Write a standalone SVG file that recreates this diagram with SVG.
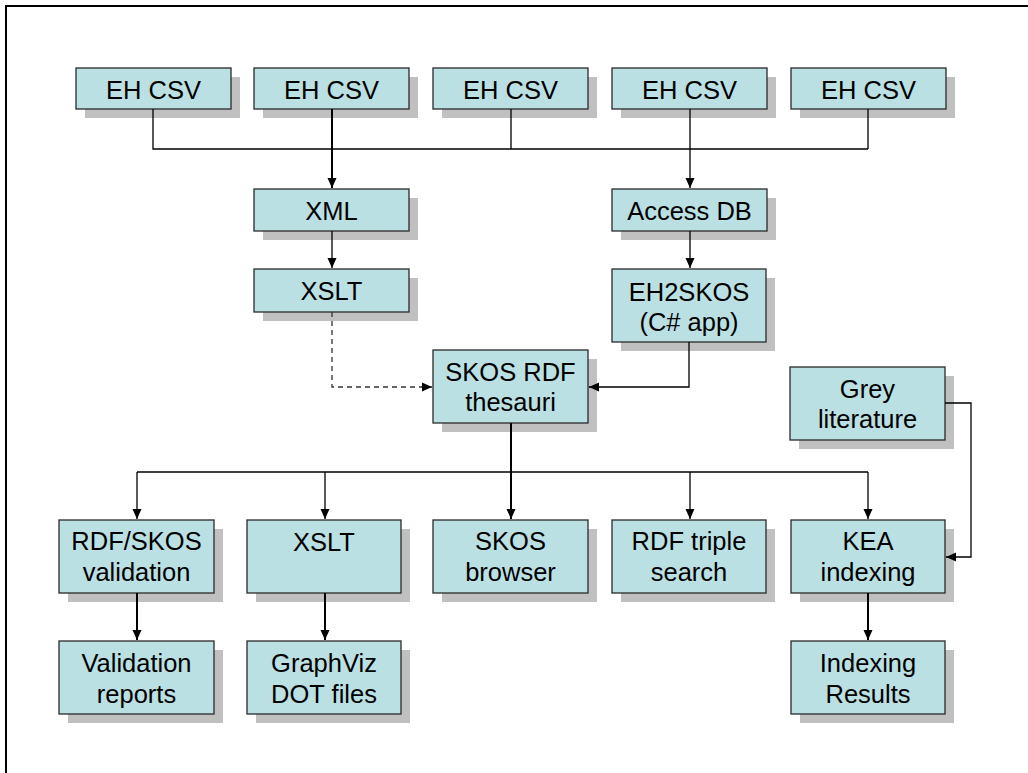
<svg xmlns="http://www.w3.org/2000/svg" width="1028" height="773" viewBox="0 0 1028 773">
<style>
.shadow{fill:#c0c0c0}
.box{fill:#bbe0e3;stroke:#2a2a2a;stroke-width:1.3}
.t{font-family:"Liberation Sans",Arial,sans-serif;font-size:25.5px;fill:#000;text-anchor:middle}
.c{fill:none;stroke:#000;stroke-width:1.3}
.th{stroke-width:2}
.d{stroke-dasharray:5,4;stroke:#333}
</style>
<defs>
<marker id="ah" markerUnits="userSpaceOnUse" markerWidth="9" markerHeight="10" refX="4.5" refY="10" orient="0" overflow="visible">
<path d="M0,0 L4.5,10 L9,0 z" fill="#000"/>
</marker>
<marker id="ahl" markerUnits="userSpaceOnUse" markerWidth="10" markerHeight="9" refX="0" refY="4.5" orient="0" overflow="visible">
<path d="M10,0 L0,4.5 L10,9 z" fill="#000"/>
</marker>
<marker id="ahr" markerUnits="userSpaceOnUse" markerWidth="10" markerHeight="9" refX="10" refY="4.5" orient="0" overflow="visible">
<path d="M0,0 L10,4.5 L0,9 z" fill="#000"/>
</marker>
</defs>
<rect x="6" y="6" width="1100" height="900" fill="#fff" stroke="#000" stroke-width="2"/>
<g id="csv1"><rect class="shadow" x="85" y="77" width="155" height="41"/><rect class="box" x="76" y="68" width="155" height="41"/><text class="t" x="153.5" y="99">EH CSV</text></g>
<g id="csv2"><rect class="shadow" x="263" y="77" width="155" height="41"/><rect class="box" x="254" y="68" width="155" height="41"/><text class="t" x="331.5" y="99">EH CSV</text></g>
<g id="csv3"><rect class="shadow" x="442" y="77" width="155" height="41"/><rect class="box" x="433" y="68" width="155" height="41"/><text class="t" x="510.5" y="99">EH CSV</text></g>
<g id="csv4"><rect class="shadow" x="621" y="77" width="155" height="41"/><rect class="box" x="612" y="68" width="155" height="41"/><text class="t" x="689.5" y="99">EH CSV</text></g>
<g id="csv5"><rect class="shadow" x="800" y="77" width="155" height="41"/><rect class="box" x="791" y="68" width="155" height="41"/><text class="t" x="868.5" y="99">EH CSV</text></g>
<g id="xml"><rect class="shadow" x="263" y="198" width="155" height="42"/><rect class="box" x="254" y="189" width="155" height="42"/><text class="t" x="331.5" y="220">XML</text></g>
<g id="accessdb"><rect class="shadow" x="621" y="198" width="155" height="42"/><rect class="box" x="612" y="189" width="155" height="42"/><text class="t" x="689.5" y="220">Access DB</text></g>
<g id="xslt1"><rect class="shadow" x="263" y="278" width="155" height="43"/><rect class="box" x="254" y="269" width="155" height="43"/><text class="t" x="331.5" y="300">XSLT</text></g>
<g id="eh2skos"><rect class="shadow" x="621" y="278" width="154" height="73"/><rect class="box" x="612" y="269" width="154" height="73"/><text class="t" x="689" y="301">EH2SKOS</text><text class="t" x="689" y="331">(C# app)</text></g>
<g id="skosrdf"><rect class="shadow" x="442" y="359" width="155" height="73"/><rect class="box" x="433" y="350" width="155" height="73"/><text class="t" x="510.5" y="381">SKOS RDF</text><text class="t" x="510.5" y="411">thesauri</text></g>
<g id="grey"><rect class="shadow" x="799" y="376" width="155" height="73"/><rect class="box" x="790" y="367" width="155" height="73"/><text class="t" x="867.5" y="398">Grey</text><text class="t" x="867.5" y="428">literature</text></g>
<g id="rdfskos"><rect class="shadow" x="68" y="529" width="155" height="73"/><rect class="box" x="59" y="520" width="155" height="73"/><text class="t" x="136.5" y="550">RDF/SKOS</text><text class="t" x="136.5" y="581">validation</text></g>
<g id="xslt2"><rect class="shadow" x="256" y="529" width="154" height="73"/><rect class="box" x="247" y="520" width="154" height="73"/><text class="t" x="324" y="551">XSLT</text></g>
<g id="skosbrowser"><rect class="shadow" x="442" y="529" width="155" height="73"/><rect class="box" x="433" y="520" width="155" height="73"/><text class="t" x="510.5" y="550">SKOS</text><text class="t" x="510.5" y="581">browser</text></g>
<g id="rdftriple"><rect class="shadow" x="621" y="529" width="154" height="73"/><rect class="box" x="612" y="520" width="154" height="73"/><text class="t" x="689" y="550">RDF triple</text><text class="t" x="689" y="581">search</text></g>
<g id="kea"><rect class="shadow" x="800" y="529" width="154" height="73"/><rect class="box" x="791" y="520" width="154" height="73"/><text class="t" x="868" y="550">KEA</text><text class="t" x="868" y="581">indexing</text></g>
<g id="valreports"><rect class="shadow" x="68" y="650" width="155" height="73"/><rect class="box" x="59" y="641" width="155" height="73"/><text class="t" x="136.5" y="672">Validation</text><text class="t" x="136.5" y="703">reports</text></g>
<g id="graphviz"><rect class="shadow" x="256" y="650" width="154" height="73"/><rect class="box" x="247" y="641" width="154" height="73"/><text class="t" x="324" y="672">GraphViz</text><text class="t" x="324" y="703">DOT files</text></g>
<g id="indexres"><rect class="shadow" x="800" y="650" width="154" height="73"/><rect class="box" x="791" y="641" width="154" height="73"/><text class="t" x="868" y="672">Indexing</text><text class="t" x="868" y="703">Results</text></g>
<g id="connectors">
<path class="c" d="M153,109 V149 H868 M511,109 V149 M690,109 V149 M868,109 V149"/>
<path class="c th" d="M332,109 V188" marker-end="url(#ah)"/>
<path class="c" d="M690,149 V188" marker-end="url(#ah)"/>
<path class="c" d="M332,231 V268" marker-end="url(#ah)"/>
<path class="c" d="M690,231 V268" marker-end="url(#ah)"/>
<path class="c" d="M689,342 V387 H589" marker-end="url(#ahl)"/>
<path class="c d" d="M332,312 V387 H432" marker-end="url(#ahr)"/>
<path class="c th" d="M511,423 V472"/>
<path class="c" d="M137,472 H868"/>
<path class="c" d="M137,472 V519" marker-end="url(#ah)"/>
<path class="c" d="M325,472 V519" marker-end="url(#ah)"/>
<path class="c th" d="M511,472 V519" marker-end="url(#ah)"/>
<path class="c" d="M690,472 V519" marker-end="url(#ah)"/>
<path class="c" d="M868,472 V519" marker-end="url(#ah)"/>
<path class="c" d="M945,403 H971 V557 H946" marker-end="url(#ahl)"/>
<path class="c th" d="M137,593 V640" marker-end="url(#ah)"/>
<path class="c th" d="M325,593 V640" marker-end="url(#ah)"/>
<path class="c th" d="M868,593 V640" marker-end="url(#ah)"/>
</g>
</svg>
